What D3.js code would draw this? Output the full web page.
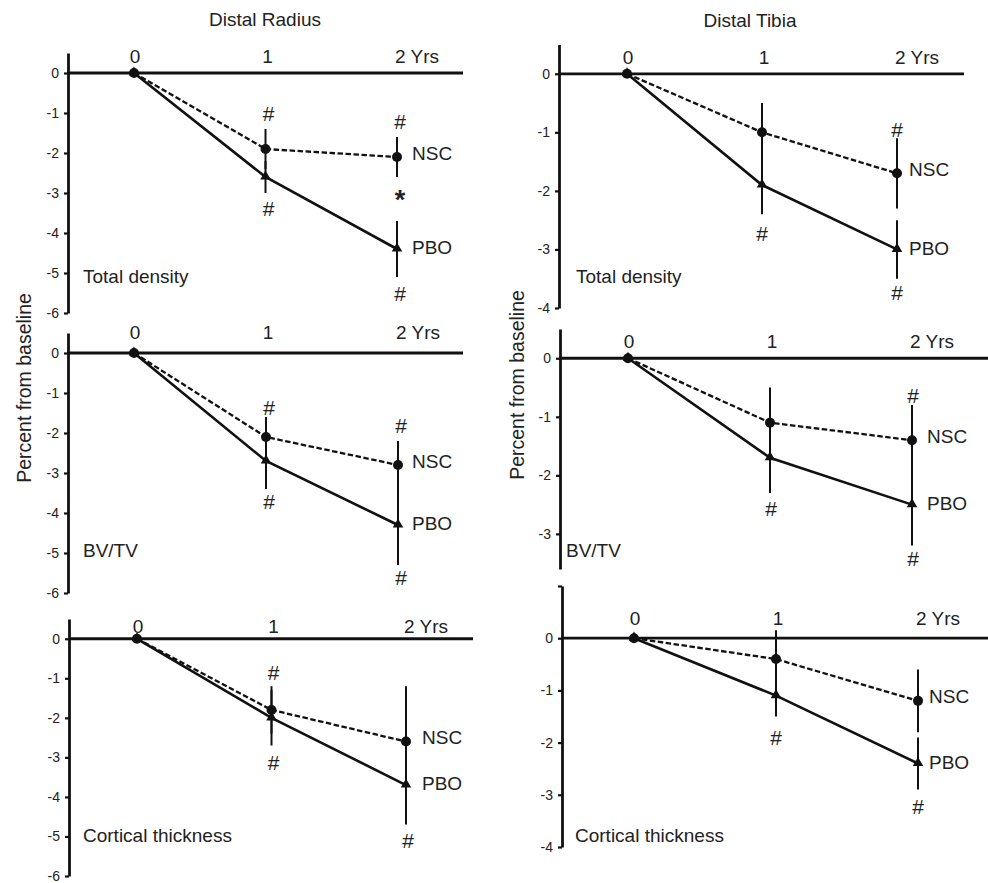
<!DOCTYPE html>
<html>
<head>
<meta charset="utf-8">
<script src="https://cdn.jsdelivr.net/npm/d3@7"></script>
<style>
  body { margin: 0; background: #fff; }
  text { font-family: "Liberation Sans", Arial, sans-serif; fill: #222; }
</style>
</head>
<body>
<div id="chart"></div>
<script>
// Data
const years = [0, 1, 2];
const yearLabels = ["0", "1", "2 Yrs"];
const sites = ["Distal Radius", "Distal Tibia"];
const measures = ["Total density", "BV/TV", "Cortical thickness"];
const seriesNames = ["NSC", "PBO"];

// mean percent change, one row per measure
const radiusNSC = [[0, -1.9, -2.1], [0, -2.1, -2.8], [0, -1.8, -2.6]];
const radiusPBO = [[0, -2.6, -4.4], [0, -2.7, -4.3], [0, -2.0, -3.7]];
const tibiaNSC = [[0, -1.0, -1.7], [0, -1.1, -1.4], [0, -0.4, -1.2]];
const tibiaPBO = [[0, -1.9, -3.0], [0, -1.7, -2.5], [0, -1.1, -2.4]];

// error bar half-lengths
const radiusNSCErr = [[0, 0.5, 0.5], [0, 0.5, 0.6], [0, 0.6, 1.4]];
const radiusPBOErr = [[0, 0.4, 0.7], [0, 0.7, 1.0], [0, 0.7, 1.0]];
const tibiaNSCErr = [[0, 0.5, 0.6], [0, 0.6, 0.6], [0, 0.55, 0.6]];
const tibiaPBOErr = [[0, 0.5, 0.5], [0, 0.6, 0.7], [0, 0.4, 0.5]];

// significance marks: [measure, year, value, symbol]
const radiusMarks = [
    [0, 1, -1.0, "#"], [0, 1, -3.38, "#"], [0, 2, -1.2, "#"], [0, 2, -3.0, "*"], [0, 2, -5.5, "#"],
    [1, 1, -1.35, "#"], [1, 1, -3.72, "#"], [1, 2, -1.82, "#"], [1, 2, -5.6, "#"],
    [2, 1, -0.85, "#"], [2, 1, -3.12, "#"], [2, 2, -5.1, "#"]
];
const tibiaMarks = [
    [0, 1, -2.72, "#"], [0, 2, -0.95, "#"], [0, 2, -3.74, "#"],
    [1, 1, -2.56, "#"], [1, 2, -0.63, "#"], [1, 2, -3.42, "#"],
    [2, 1, -1.9, "#"], [2, 2, -3.22, "#"]
];

const siteData = [
    { nsc: radiusNSC, pbo: radiusPBO, nscErr: radiusNSCErr, pboErr: radiusPBOErr, marks: radiusMarks },
    { nsc: tibiaNSC, pbo: tibiaPBO, nscErr: tibiaNSCErr, pboErr: tibiaPBOErr, marks: tibiaMarks }
];

// Layout of the six panels
const panels = [
    { site: 0, m: 0, axisX: 68, top: 53, bottom: 313, yMax: 0.5, yMin: -6, ticks: [0, -1, -2, -3, -4, -5, -6], x0: 134, x2: 397, lineEnd: 463, labelY: 63, nameX: 83, nameY: 283, dx: 3, labelDx: 15 },
    { site: 0, m: 1, axisX: 68, top: 333, bottom: 593, yMax: 0.5, yMin: -6, ticks: [0, -1, -2, -3, -4, -5, -6], x0: 134, x2: 398, lineEnd: 463, labelY: 339, nameX: 83, nameY: 557, dx: 3, labelDx: 14 },
    { site: 0, m: 2, axisX: 69, top: 619, bottom: 876, yMax: 0.5, yMin: -6, ticks: [0, -1, -2, -3, -4, -5, -6], x0: 137, x2: 406, lineEnd: 473, labelY: 633, nameX: 83, nameY: 842, dx: 2, labelDx: 16 },
    { site: 1, m: 0, axisX: 559, top: 44.5, bottom: 308, yMax: 0.5, yMin: -4, ticks: [0, -1, -2, -3, -4], x0: 627, x2: 897, lineEnd: 964, labelY: 64, nameX: 576, nameY: 283, dx: 0, labelDx: 12 },
    { site: 1, m: 1, axisX: 560, top: 329, bottom: 569, yMax: 0.5, yMin: -3.6, ticks: [0, -1, -2, -3], x0: 628, x2: 912, lineEnd: 988, labelY: 348, nameX: 566, nameY: 557, dx: 1, labelDx: 15 },
    { site: 1, m: 2, axisX: 562, top: 586, bottom: 847, yMax: 1, yMin: -4, ticks: [1, 0, -1, -2, -3, -4], x0: 634, x2: 918, lineEnd: 988, labelY: 625, nameX: 575, nameY: 842, dx: 0, labelDx: 11 }
];

const W = 988, H = 883;
const ink = "#111";

const svg = d3.select("#chart").append("svg")
    .attr("width", W)
    .attr("height", H);

// Site titles
const titlePos = [[265, 26], [750, 27]];
svg.selectAll(".site-title")
    .data(sites)
    .enter().append("text")
    .attr("class", "site-title")
    .attr("x", (d, i) => titlePos[i][0])
    .attr("y", (d, i) => titlePos[i][1])
    .attr("text-anchor", "middle")
    .style("font-size", "19px")
    .text(d => d);

// Y axis titles
[[31, 388], [524, 385]].forEach(p => {
    svg.append("text")
        .attr("transform", `translate(${p[0]},${p[1]}) rotate(-90)`)
        .attr("text-anchor", "middle")
        .style("font-size", "19.5px")
        .text("Percent from baseline");
});

panels.forEach(p => {
    const sd = siteData[p.site];
    const nsc = sd.nsc[p.m], pbo = sd.pbo[p.m];
    const nscErr = sd.nscErr[p.m], pboErr = sd.pboErr[p.m];

    const x = d3.scaleLinear().domain([0, 2]).range([p.x0, p.x2]);
    const y = d3.scaleLinear().domain([p.yMax, p.yMin]).range([p.top, p.bottom]);

    const g = svg.append("g");

    // zero line
    g.append("line")
        .attr("x1", p.axisX).attr("x2", p.lineEnd)
        .attr("y1", y(0)).attr("y2", y(0))
        .attr("stroke", ink).attr("stroke-width", 2.8);

    // Y axis
    const ax = g.append("g")
        .attr("transform", `translate(${p.axisX},0)`)
        .call(d3.axisLeft(y)
            .tickValues(p.ticks)
            .tickSizeInner(4)
            .tickSizeOuter(0)
            .tickPadding(5)
            .tickFormat(d => d > 0 ? "" : String(d)));
    ax.select(".domain").attr("stroke", ink).attr("stroke-width", 2.8);
    ax.selectAll(".tick line").attr("stroke", ink).attr("stroke-width", 2.2);
    ax.selectAll(".tick text")
        .style("font-family", "'Liberation Sans', Arial, sans-serif")
        .style("font-size", "14px")
        .attr("fill", "#2a2a2a");

    // year labels along the top
    g.selectAll(".year-label")
        .data(years)
        .enter().append("text")
        .attr("class", "year-label")
        .attr("x", d => d === 2 ? x(d) - 2 : x(d) + 1 + d)
        .attr("y", p.labelY)
        .attr("text-anchor", d => d === 2 ? "start" : "middle")
        .style("font-size", "19px")
        .text((d, i) => yearLabels[i]);

    // measure name
    g.append("text")
        .attr("x", p.nameX)
        .attr("y", p.nameY)
        .style("font-size", "19px")
        .text(measures[p.m]);

    const line = d3.line()
        .x((d, i) => x(years[i]))
        .y(d => y(d));

    // lines
    g.append("path")
        .datum(nsc)
        .attr("d", line)
        .attr("fill", "none")
        .attr("stroke", ink)
        .attr("stroke-width", 2.3)
        .attr("stroke-dasharray", "5.5,2.5");

    g.append("path")
        .datum(pbo)
        .attr("d", line)
        .attr("fill", "none")
        .attr("stroke", ink)
        .attr("stroke-width", 2.6);

    // error bars
    const errs = [];
    years.forEach((yr, i) => {
        if (nscErr[i] > 0) errs.push({ yr: yr, lo: nsc[i] - nscErr[i], hi: nsc[i] + nscErr[i] });
        if (pboErr[i] > 0) errs.push({ yr: yr, lo: pbo[i] - pboErr[i], hi: pbo[i] + pboErr[i] });
    });
    g.selectAll(".err")
        .data(errs)
        .enter().append("line")
        .attr("class", "err")
        .attr("x1", d => x(d.yr)).attr("x2", d => x(d.yr))
        .attr("y1", d => y(d.hi)).attr("y2", d => y(d.lo))
        .attr("stroke", ink)
        .attr("stroke-width", 2);

    // markers
    g.selectAll(".tri")
        .data(pbo)
        .enter().append("path")
        .attr("class", "tri")
        .attr("d", d3.symbol(d3.symbolTriangle, 48))
        .attr("transform", (d, i) => `translate(${x(years[i])},${y(d) - 0.5})`)
        .attr("fill", ink);

    g.selectAll(".dot")
        .data(nsc)
        .enter().append("circle")
        .attr("class", "dot")
        .attr("cx", (d, i) => x(years[i]))
        .attr("cy", d => y(d))
        .attr("r", 5)
        .attr("fill", ink);

    // series labels
    const last = years.length - 1;
    [[nsc[last], -4], [pbo[last], -1.5]].forEach((v, k) => {
        g.append("text")
            .attr("x", x(years[last]) + p.labelDx)
            .attr("y", y(v[0]) + v[1])
            .attr("dy", "0.35em")
            .style("font-size", "19px")
            .text(seriesNames[k]);
    });

    // significance marks
    g.selectAll(".mark")
        .data(sd.marks.filter(d => d[0] === p.m))
        .enter().append("text")
        .attr("class", "mark")
        .attr("x", d => x(d[1]) + p.dx)
        .attr("y", d => y(d[2]))
        .attr("dy", d => d[3] === "*" ? "0.58em" : "0.36em")
        .attr("text-anchor", "middle")
        .style("font-size", d => d[3] === "*" ? "27px" : "21px")
        .style("font-weight", d => d[3] === "*" ? "bold" : "normal")
        .text(d => d[3]);
});
</script>
</body>
</html>
